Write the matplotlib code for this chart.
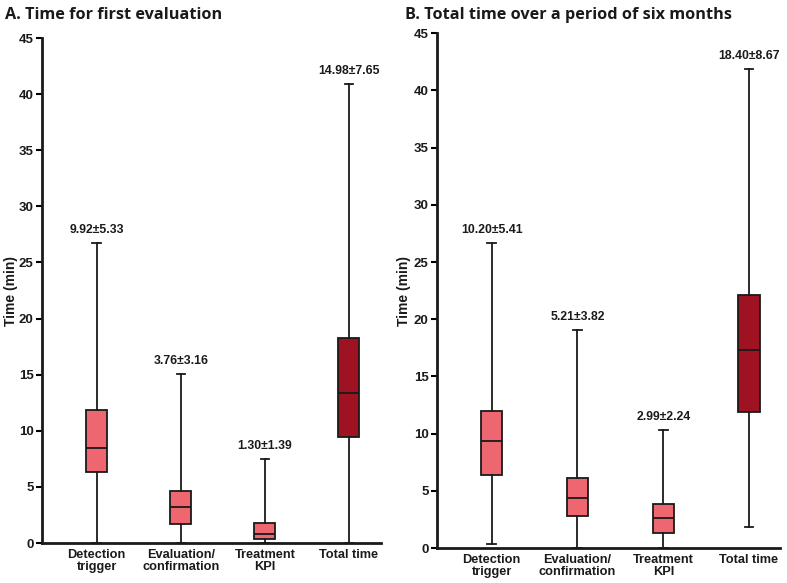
import matplotlib
matplotlib.use("Agg")
import matplotlib.pyplot as plt

categories = ["Detection\ntrigger", "Evaluation/\nconfirmation", "Treatment\nKPI", "Total time"]

# panel A: time for first evaluation
a_low = [0, 0, 0, 0]
a_q1 = [6.3, 1.72, 0.35, 9.47]
a_med = [8.5, 3.2, 0.8, 13.4]
a_q3 = [11.85, 4.63, 1.8, 18.24]
a_high = [26.7, 15.1, 7.5, 40.9]
a_labels = ["9.92\u00b15.33", "3.76\u00b13.16", "1.30\u00b11.39", "14.98\u00b17.65"]

# panel B: total time over six months
b_low = [0.38, 0, 0, 1.83]
b_q1 = [6.38, 2.76, 1.31, 11.91]
b_med = [9.32, 4.37, 2.65, 17.33]
b_q3 = [11.94, 6.12, 3.87, 22.14]
b_high = [26.66, 19.08, 10.31, 41.9]
b_labels = ["10.20\u00b15.41", "5.21\u00b13.82", "2.99\u00b12.24", "18.40\u00b18.67"]

light = "#EE6670"
dark = "#9E1221"
colors = [light, light, light, dark]

plt.rcParams['font.family'] = ['Liberation Sans', 'DejaVu Sans']

fig = plt.figure(figsize=(7.87, 5.83), dpi=100)


def panel(rect, title, title_x, low, q1, med, q3, high, labels, xlim, ylab_x):
    ax = fig.add_axes(rect)
    stats = []
    for i in range(len(categories)):
        stats.append(dict(whislo=low[i], q1=q1[i], med=med[i], q3=q3[i],
                          whishi=high[i], fliers=[]))
    pos = [1, 2, 3, 4]
    bp = ax.bxp(stats, positions=pos, widths=0.25, patch_artist=True,
                showfliers=False,
                boxprops=dict(linewidth=1.3, edgecolor="#1a1a1a"),
                medianprops=dict(color="#1a1a1a", linewidth=1.3),
                whiskerprops=dict(color="#1a1a1a", linewidth=1.3),
                capprops=dict(color="#1a1a1a", linewidth=1.3),
                capwidths=0.1)
    for patch, c in zip(bp['boxes'], colors):
        patch.set_facecolor(c)
    for p, h, t in zip(pos, high, labels):
        ax.annotate(t, (p, h), xytext=(0, 5), textcoords="offset points",
                    ha="center", va="bottom", fontsize=8.8, fontweight="bold",
                    color="#1a1a1a")
    ax.set_ylim(0, 45)
    ax.set_xlim(*xlim)
    ax.set_yticks(range(0, 46, 5))
    ax.set_xticks(pos)
    ax.set_xticklabels(categories, fontsize=9.2, fontweight="bold",
                       color="#1a1a1a", linespacing=1.05)
    for lab in ax.get_yticklabels():
        lab.set_fontweight("bold")
        lab.set_fontsize(9.5)
        lab.set_color("#1a1a1a")
    ax.tick_params(axis="y", direction="out", length=4, width=1.5, pad=2)
    ax.tick_params(axis="x", length=0, pad=4)
    ax.spines['top'].set_visible(False)
    ax.spines['right'].set_visible(False)
    ax.spines['left'].set_linewidth(2)
    ax.spines['bottom'].set_linewidth(2)
    ax.spines['left'].set_color("#1a1a1a")
    ax.spines['bottom'].set_color("#1a1a1a")
    ax.set_ylabel("Time (min)", fontsize=10, fontweight="bold", color="#1a1a1a")
    ax.yaxis.set_label_coords(ylab_x, 0.5)
    fig.text(title_x, 0.988, title, fontsize=11.7, fontweight="bold",
             family=["Open Sans", "DejaVu Sans"], ha="left", va="top",
             color="#1a1a1a")
    return ax


panel([0.0534, 0.0686, 0.4306, 0.8662], "A. Time for first evaluation", 5 / 787,
      a_low, a_q1, a_med, a_q3, a_high, a_labels, (0.35, 4.38), -0.07)
panel([0.555, 0.060, 0.436, 0.883], "B. Total time over a period of six months", 405 / 787,
      b_low, b_q1, b_med, b_q3, b_high, b_labels, (0.36, 4.36), -0.076)

fig.savefig("out.png", dpi=100)
